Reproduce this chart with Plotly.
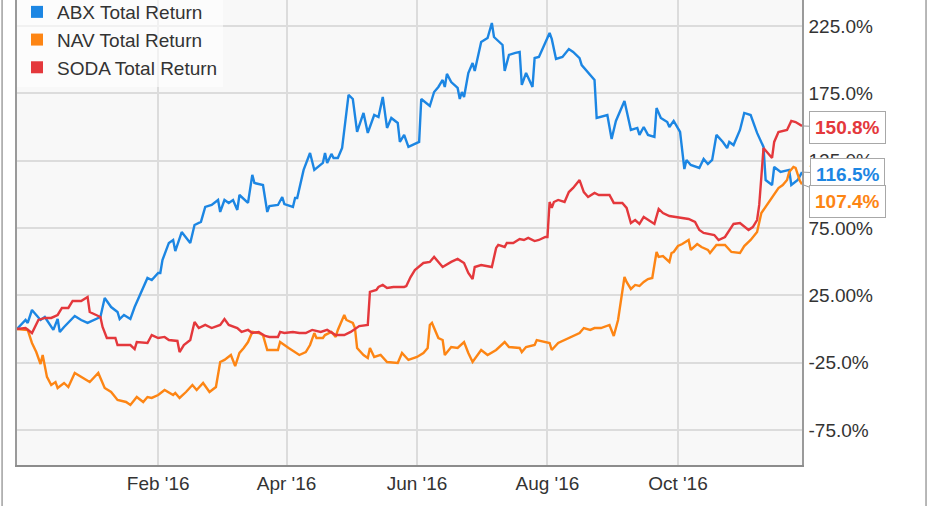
import pandas as pd
import plotly.graph_objects as go

# ---- data (day offset from START_DATE, total return in %) ----
START_DATE = "2015-11-27"

ABX = [(0,0.0),(4,6.7),(5,4.5),(7,14.1),(9,10.4),(11,6.7),(13,8.9),(15,4.5),(17,-0.7),(19,7.4),(20,-2.2),(22,1.5),
       (27,9.7),(30,6.7),(33,4.5),(39,8.9),(41,23.0),(44,16.3),(47,12.6),(48,7.4),(50,10.4),(53,7.4),(55,16.3),
       (61,37.9),(63,36.4),(66,41.6),(67,41.6),(68,51.2),(71,63.9),(73,66.1),(74,57.9),(77,72.0),(81,63.9),(83,77.2),
       (86,79.5),(88,90.6),(91,92.1),(94,95.8),(95,86.9),(97,95.8),(99,93.6),(101,95.8),(103,88.4),(104,99.5),
       (108,93.6),(110,114.4),(111,108.4),(115,106.9),(117,86.9),(118,91.3),(122,92.1),(124,98.0),(125,92.8),
       (129,90.6),(130,97.3),(131,97.3),(134,118.1),(137,130.7),(139,118.1),(143,123.3),(144,130.7),(145,123.3),
       (147,130.0),(148,127.0),(150,127.0),(152,134.4),(155,173.8),(157,170.8),(159,146.3),(162,160.4),(164,145.6),
       (167,158.9),(169,157.4),(171,172.3),(173,149.3),(175,156.7),(178,153.0),(179,138.9),(181,144.1),(183,135.2),
       (188,138.9),(189,170.8),(193,165.6),(195,176.0),(197,179.7),(199,184.9),(200,179.7),(201,189.4),(203,183.4),
       (206,179.0),(207,170.8),(208,176.0),(209,172.3),(211,190.1),(213,197.5),(214,191.6),(217,213.1),(220,216.1),
       (222,227.2),(223,216.8),(227,210.9),(228,191.6),(230,203.5),(233,205.0),(235,205.7),(236,181.2),(238,190.1),
       (241,179.7),(242,201.2),(244,202.0),(246,209.4),(249,219.8),(250,215.4),(252,200.5),(255,202.0),(258,207.9),
       (260,205.7),(263,201.2),(264,196.0),(266,192.3),(268,188.6),(270,184.9),(271,156.7),(276,158.9),(278,141.1),
       (280,154.5),(284,169.3),(287,147.8),(290,149.3),(291,144.1),(293,150.0),(295,144.1),(298,142.6),(299,164.1),
       (301,156.7),(304,153.7),(305,150.0),(307,154.5),(310,146.3),(312,118.8),(313,125.5),(315,121.8),(319,119.6),
       (321,126.2),(323,122.5),(325,125.5),(327,144.1),(330,138.9),(332,134.4),(333,138.9),(335,136.6),(338,147.8),
       (340,160.4),(343,158.9),(346,145.6),(349,135.2),(350,110.6),(353,106.9),(354,120.3),(357,116.6),(361,118.1),
       (362,106.9),(365,110.6),(367,116.5)]

NAV = [(0,0.0),(5,-0.7),(7,-10.4),(9,-17.1),(11,-26.0),(12,-19.3),(14,-35.6),(16,-41.6),(18,-39.4),(19,-43.8),
       (22,-40.1),(24,-43.1),(27,-32.7),(30,-35.6),(34,-39.4),(38,-32.7),(41,-43.8),(44,-46.8),(47,-52.7),(51,-54.2),
       (53,-56.4),(56,-50.5),(59,-54.2),(61,-50.5),(63,-51.2),(66,-49.0),(69,-45.3),(73,-49.0),(74,-47.5),(76,-51.2),
       (79,-46.8),(82,-41.6),(84,-45.3),(87,-40.1),(90,-46.8),(93,-43.1),(95,-24.5),(97,-23.0),(100,-19.3),(102,-27.5),
       (104,-17.8),(106,-14.1),(108,-9.7),(110,-2.2),(113,-3.0),(115,-4.5),(117,-15.6),(122,-15.6),(123,-9.7),
       (127,-14.1),(132,-19.3),(135,-17.1),(137,-11.9),(139,-3.0),(140,-6.7),(143,-6.7),(144,-4.5),(147,-2.2),
       (149,-5.9),(150,-0.7),(153,10.4),(154,6.7),(157,4.5),(158,0.7),(159,-14.1),(162,-19.3),(164,-21.5),(165,-14.1),
       (167,-20.8),(170,-19.3),(173,-24.5),(178,-25.2),(180,-17.8),(183,-23.0),(187,-20.8),(190,-17.8),(192,-14.1),
       (193,3.0),(194,4.5),(197,-6.7),(199,-8.2),(200,-19.3),(203,-13.4),(206,-14.1),(209,-9.7),(211,-17.8),
       (213,-24.5),(217,-15.6),(220,-19.3),(224,-15.6),(228,-9.7),(230,-13.4),(235,-14.1),(236,-17.1),(238,-13.4),
       (242,-11.9),(243,-8.2),(249,-10.4),(250,-15.6),(253,-10.4),(258,-6.7),(263,-3.0),(265,0.7),(268,-0.7),
       (270,0.7),(273,0.7),(277,3.0),(279,-5.2),(281,6.7),(284,38.6),(285,34.9),(287,29.7),(289,32.7),(291,31.9),
       (293,34.9),(295,37.1),(297,37.9),(299,57.2),(300,53.5),(302,54.2),(305,49.8),(306,56.4),(307,57.2),(309,61.6),
       (311,63.1),(314,66.1),(315,58.7),(318,63.1),(320,60.9),(323,58.7),(324,56.4),(327,62.4),(331,62.4),(334,57.2),
       (338,56.4),(340,61.6),(343,66.1),(346,72.0),(348,86.1),(350,90.6),(353,97.3),(354,99.5),(356,104.7),
       (358,106.9),(360,110.6),(361,116.6),(363,120.3),(364,119.6),(366,110.0),(367,107.4)]

SODA = [(0,0.0),(4,0.7),(7,-3.0),(10,6.7),(13,8.2),(16,8.2),(19,10.4),(21,15.6),(24,15.6),(26,20.8),(30,20.8),
        (33,23.8),(34,12.6),(39,8.9),(40,1.5),(42,-6.7),(46,-6.7),(47,-11.9),(53,-11.9),(55,-14.9),(56,-9.7),
        (59,-10.4),(61,-10.4),(63,-4.5),(66,-6.7),(69,-5.9),(71,-8.2),(75,-8.9),(76,-17.1),(78,-11.9),(81,-8.2),
        (83,5.2),(85,0.7),(88,3.0),(91,0.7),(95,3.0),(97,7.4),(99,3.0),(103,0.7),(105,-2.2),(108,-0.7),(110,-3.0),
        (113,-2.2),(116,-5.2),(118,-5.9),(122,-5.9),(123,-2.2),(125,-3.0),(129,-2.2),(132,-3.0),(135,-3.0),
        (138,-0.7),(142,-2.2),(145,-0.7),(149,-4.5),(153,-4.5),(156,-2.2),(160,2.2),(164,3.0),(165,27.5),(168,29.0),
        (169,31.2),(171,32.7),(173,30.4),(176,31.2),(181,31.2),(182,31.9),(184,38.6),(186,43.8),(190,49.0),
        (193,49.8),(195,53.5),(197,49.8),(199,46.0),(203,49.8),(206,52.0),(209,49.0),(211,41.6),(213,37.1),
        (214,46.0),(217,47.5),(222,46.0),(224,60.2),(225,62.4),(228,60.9),(229,63.9),(232,63.9),(235,66.8),
        (237,66.1),(239,67.6),(242,65.3),(244,66.1),(247,68.3),(248,68.3),(249,94.3),(250,89.9),(251,94.3),
        (253,95.8),(256,94.3),(258,101.7),(260,104.7),(263,110.6),(265,101.7),(267,98.0),(270,101.0),(272,99.5),
        (277,99.5),(279,93.6),(283,93.6),(285,89.9),(287,78.7),(289,80.9),(291,78.0),(293,83.2),(298,78.0),
        (300,89.1),(302,86.1),(305,83.9),(308,83.2),(314,81.7),(317,79.5),(319,73.5),(321,71.3),(326,69.8),
        (328,66.1),(331,68.3),(335,78.0),(338,78.7),(342,73.5),(344,75.7),(346,80.9),(347,92.1),(348,112.9),
        (349,134.4),(351,130.7),(353,127.0),(354,138.9),(356,146.3),(360,147.8),(362,154.5),(364,153.7),(367,150.8)]

SERIES_NAMES = ["ABX Total Return", "NAV Total Return", "SODA Total Return"]
SERIES_DATA = [ABX, NAV, SODA]
SERIES_COLORS = ["#1c86e3", "#fd8514", "#e4383c"]
END_LABELS = ["116.5%", "107.4%", "150.8%"]
END_LABEL_SHIFT = [2, 17, 2]   # vertical offset (px) of the end callouts

Y_TICKS = [225, 175, 125, 75, 25, -25, -75]
Y_TICK_TEXT = ["225.0%", "175.0%", "125.0%", "75.00%", "25.00%", "-25.0%", "-75.0%"]
X_TICKS = ["2016-02-01", "2016-04-01", "2016-06-01", "2016-08-01", "2016-10-01"]
X_TICK_TEXT = ["Feb '16", "Apr '16", "Jun '16", "Aug '16", "Oct '16"]

FONT = "Liberation Sans, Arial, sans-serif"
start = pd.Timestamp(START_DATE)

fig = go.Figure()
for name, data, color in zip(SERIES_NAMES, SERIES_DATA, SERIES_COLORS):
    days = [d for d, _ in data]
    vals = [v for _, v in data]
    dates = start + pd.to_timedelta(days, unit="D")
    fig.add_trace(go.Scatter(x=dates, y=vals, mode="lines", name=name, showlegend=False,
                             line=dict(color=color, width=2.4), hoverinfo="skip"))

# legend entries with square swatches
for name, color in zip(SERIES_NAMES, SERIES_COLORS):
    fig.add_trace(go.Scatter(x=[None], y=[None], mode="markers", name=name,
                             marker=dict(symbol="square", size=11, color=color)))

# end-of-line callouts
for data, color, label, shift in zip(SERIES_DATA, SERIES_COLORS, END_LABELS, END_LABEL_SHIFT):
    d_last, v_last = data[-1]
    fig.add_annotation(x=start + pd.Timedelta(days=d_last), y=v_last, xref="x", yref="y",
                       text="<b>" + label + "</b>", showarrow=True, arrowhead=0, arrowwidth=1,
                       arrowcolor="#9a9a9a", ax=45, ay=shift, standoff=0,
                       font=dict(family=FONT, size=19, color=color),
                       bgcolor="white", bordercolor="#a8a8a8", borderwidth=1, borderpad=5)

x_end = start + pd.Timedelta(days=367)
fig.update_layout(
    width=931, height=506,
    margin=dict(l=17, r=129, t=0, b=41, autoexpand=False),
    paper_bgcolor="white", plot_bgcolor="#f8f8f8",
    font=dict(family=FONT, size=19, color="#333333"),
    legend=dict(x=0, y=1.015, xanchor="left", yanchor="top", bgcolor="rgba(255,255,255,0.6)",
                font=dict(family=FONT, size=19, color="#333333"), borderwidth=0,
                itemsizing="constant"),
    showlegend=True,
    xaxis=dict(type="date", range=[start, x_end], tickvals=X_TICKS, ticktext=X_TICK_TEXT,
               showgrid=True, gridcolor="#dcdcdc", gridwidth=1.5, ticks="",
               showline=True, linecolor="#8c8c8c", linewidth=2, zeroline=False,
               tickfont=dict(family=FONT, size=19, color="#333333"), ticklabelstandoff=0,
               fixedrange=True),
    yaxis=dict(range=[-101, 244.3], side="right", tickvals=Y_TICKS, ticktext=Y_TICK_TEXT,
               showgrid=True, gridcolor="#dcdcdc", gridwidth=1.5, ticks="", zeroline=False,
               showline=True, mirror=True, linecolor="#9a9a9a", linewidth=1.5,
               tickfont=dict(family=FONT, size=19, color="#333333"), ticklabelstandoff=1,
               fixedrange=True),
    shapes=[
        dict(type="line", xref="paper", yref="paper", x0=-0.019, x1=-0.019, y0=-0.1, y1=1.0,
             line=dict(color="#a0a0a0", width=1.5)),
        dict(type="line", xref="paper", yref="paper", x0=1.158, x1=1.158, y0=-0.1, y1=1.0,
             line=dict(color="#a0a0a0", width=1.5)),
    ],
)

fig.write_html("out.html", config={"displayModeBar": False},
               post_script="document.body.style.margin='0';document.body.style.overflow='hidden';")
